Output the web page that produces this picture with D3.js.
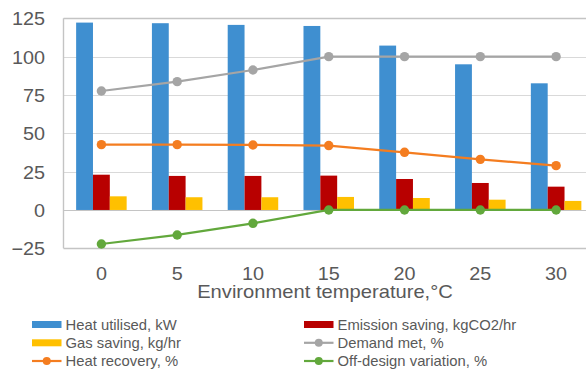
<!DOCTYPE html>
<html>
<head>
<meta charset="utf-8">
<script src="https://cdn.jsdelivr.net/npm/d3@7"></script>
<style>
  html, body { margin: 0; padding: 0; background: #fff; }
  svg { display: block; font-family: "Liberation Sans", Arial, sans-serif; }
</style>
</head>
<body>
<svg id="chart" width="586" height="371"></svg>
<script>
// Environment temperature categories (°C)
const temperatures = [0, 5, 10, 15, 20, 25, 30];

// Bar series
const heatUtilised = [122.2, 121.8, 120.7, 120.0, 107.2, 95.0, 82.6];     // kW
const emissionSaving = [23.0, 22.2, 22.2, 22.4, 20.2, 17.6, 15.2];        // kgCO2/hr
const gasSaving = [8.9, 8.3, 8.3, 8.5, 7.8, 6.7, 5.9];                    // kg/hr

// Line series
const demandMet = [77.6, 83.7, 91.3, 100, 100, 100, 100];                 // %
const heatRecovery = [42.6, 42.6, 42.4, 42.0, 37.6, 33.0, 28.9];          // %
const offDesign = [-22.2, -16.3, -8.7, 0, 0, 0, 0];                       // %

const yTicks = [-25, 0, 25, 50, 75, 100, 125];

const barSeries = [
  { name: "Heat utilised, kW", values: heatUtilised, color: "#3f8fd0" },
  { name: "Emission saving, kgCO2/hr", values: emissionSaving, color: "#b80000" },
  { name: "Gas saving, kg/hr", values: gasSaving, color: "#ffc000" }
];
const lineSeries = [
  { name: "Demand met, %", values: demandMet, color: "#a5a5a5" },
  { name: "Heat recovery, %", values: heatRecovery, color: "#f47d20" },
  { name: "Off-design variation, %", values: offDesign, color: "#62a83c" }
];

const svg = d3.select("#chart");
const plot = { left: 63.5, right: 594, top: 18.3, bottom: 248.3 };

const x = d3.scaleBand()
  .domain(temperatures)
  .range([plot.left, plot.right])
  .paddingInner(0).paddingOuter(0);

const y = d3.scaleLinear()
  .domain([-25, 125])
  .range([plot.bottom, plot.top]);

const barW = x.bandwidth() / 4.5;
const xSub = d3.scaleBand()
  .domain(d3.range(barSeries.length))
  .range([x.bandwidth() / 2 - 1.5 * barW, x.bandwidth() / 2 + 1.5 * barW]);

// Horizontal gridlines
svg.append("g")
  .selectAll("line")
  .data(yTicks)
  .join("line")
  .attr("x1", plot.left).attr("x2", plot.right)
  .attr("y1", d => Math.round(y(d)) + 0.5)
  .attr("y2", d => Math.round(y(d)) + 0.5)
  .attr("stroke", d => (d === 125 || d === -25 || d === 0) ? "#c4c4c4" : "#d9d9d9")
  .attr("stroke-width", d => (d === 125 || d === -25) ? 1.4 : 1);

// Left border of the plot area
svg.append("line")
  .attr("x1", plot.left).attr("x2", plot.left)
  .attr("y1", y(125)).attr("y2", y(-25))
  .attr("stroke", "#c4c4c4").attr("stroke-width", 1.4);

// Text widened slightly along x
function stretchedText(sel, tx, ty, str, size, anchor, sx) {
  sel.append("text")
    .attr("transform", `translate(${tx},${ty}) scale(${sx},1)`)
    .attr("text-anchor", anchor)
    .attr("font-size", size)
    .attr("fill", "#595959")
    .text(str);
}

// Y axis labels
const yAxis = d3.axisLeft(y).tickValues(yTicks).tickSize(0).tickPadding(0);
const yg = svg.append("g").attr("transform", "translate(45,0)").call(yAxis);
yg.select(".domain").remove();
yg.selectAll(".tick text")
  .attr("font-size", 18)
  .attr("font-family", "Liberation Sans, Arial, sans-serif")
  .attr("fill", "#595959")
  .attr("x", 0)
  .attr("dy", "0.36em")
  .attr("transform", "scale(1.1,1)");

// Bars
const groups = svg.append("g")
  .selectAll("g")
  .data(temperatures)
  .join("g")
  .attr("transform", d => `translate(${x(d)},0)`);

groups.selectAll("rect")
  .data((d, i) => barSeries.map((s, k) => ({ k, v: s.values[i], color: s.color })))
  .join("rect")
  .attr("x", d => xSub(d.k))
  .attr("width", barW)
  .attr("y", d => y(Math.max(0, d.v)))
  .attr("height", d => Math.abs(y(d.v) - y(0)))
  .attr("fill", d => d.color);

// Lines with markers
const cx = d => x(d) + x.bandwidth() / 2;
const line = d3.line()
  .x((v, i) => cx(temperatures[i]))
  .y(v => y(v));

lineSeries.forEach(s => {
  svg.append("path")
    .datum(s.values)
    .attr("d", line)
    .attr("fill", "none")
    .attr("stroke", s.color)
    .attr("stroke-width", 2.2);
  svg.append("g")
    .selectAll("circle")
    .data(s.values)
    .join("circle")
    .attr("cx", (v, i) => cx(temperatures[i]))
    .attr("cy", v => y(v))
    .attr("r", 4.7)
    .attr("fill", s.color);
});

// X tick labels
const xg = svg.append("g");
temperatures.forEach(t => {
  stretchedText(xg, cx(t), 279.5, String(t), 18, "middle", 1.1);
});

// Axis title
stretchedText(svg, 325, 297.5, "Environment temperature,\u00B0C", 18, "middle", 1.12);

// Legend
const legendItems = [
  { s: barSeries[0], type: "bar", col: 0, row: 0 },
  { s: barSeries[1], type: "bar", col: 1, row: 0 },
  { s: barSeries[2], type: "bar", col: 0, row: 1 },
  { s: lineSeries[0], type: "line", col: 1, row: 1 },
  { s: lineSeries[1], type: "line", col: 0, row: 2 },
  { s: lineSeries[2], type: "line", col: 1, row: 2 }
];
const colX = [32, 304];
const rowY = [329.5, 347.8, 366];
const legend = svg.append("g");
legendItems.forEach(it => {
  const x0 = colX[it.col];
  const base = rowY[it.row];
  const mid = base - 5;
  if (it.type === "bar") {
    legend.append("rect")
      .attr("x", x0).attr("y", mid - 3.5)
      .attr("width", 29.5).attr("height", 7)
      .attr("fill", it.s.color);
  } else {
    legend.append("line")
      .attr("x1", x0).attr("x2", x0 + 29.5)
      .attr("y1", mid).attr("y2", mid)
      .attr("stroke", it.s.color).attr("stroke-width", 2.2);
    legend.append("circle")
      .attr("cx", x0 + 14.75).attr("cy", mid).attr("r", 4)
      .attr("fill", it.s.color);
  }
  stretchedText(legend, x0 + 33.5, base, it.s.name, 14, "start", 1.06);
});
</script>
</body>
</html>
